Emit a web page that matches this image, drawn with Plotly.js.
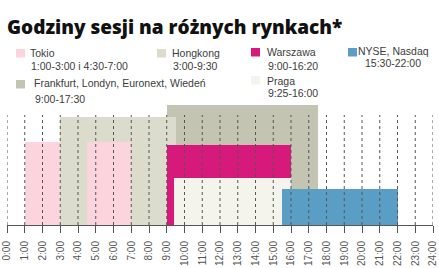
<!DOCTYPE html>
<html>
<head>
<meta charset="utf-8">
<script src="https://cdn.plot.ly/plotly-3.0.1.min.js"></script>
<style>
html,body{margin:0;padding:0;background:#fff;}
#chart{width:439px;height:268px;}
</style>
</head>
<body>
<div id="chart"></div>
<script>
// ---- data ----
var markets = ['Frankfurt, Londyn, Euronext, Wiedeń', 'Hongkong', 'Tokio', 'Warszawa', 'Praga', 'NYSE, Nasdaq'];
var hoursText = ['9:00-17:30', '3:00-9:30', '1:00-3:00 i 4:30-7:00', '9:00-16:20', '9:25-16:00', '15:30-22:00'];
var sessionStart = [[9], [3], [1, 4.5], [9], [9 + 25/60], [15.5]];
var sessionEnd   = [[17.5], [9.5], [3, 7], [16], [16], [22]];
var tickVals = [0,1,2,3,4,5,6,7,8,9,10,11,12,13,14,15,16,17,18,19,20,21,22,23,24];
var tickLabels = ['0:00','1:00','2:00','3:00','4:00','5:00','6:00','7:00','8:00','9:00','10:00','11:00','12:00',
                  '13:00','14:00','15:00','16:00','17:00','18:00','19:00','20:00','21:00','22:00','23:00','24:00'];

// ---- styles (layering heights in px-units and colours) ----
var levels = [120, 108, 83, 80, 47, 36];
var colors = ['#c4c4b2', '#dcdccd', '#fcd4de', '#d6197b', '#f4f4ec', '#5a9ec6'];
var W = 439, H = 268, L = 7, R = 6, T = 105, B = 43;
var plotW = W - L - R, plotH = H - T - B;
var gridTop = 110;

var traces = markets.map(function (m, i) {
  var xs = [], ws = [], ys = [];
  for (var k = 0; k < sessionStart[i].length; k++) {
    xs.push((sessionStart[i][k] + sessionEnd[i][k]) / 2);
    ws.push(sessionEnd[i][k] - sessionStart[i][k]);
    ys.push(levels[i]);
  }
  return {type: 'bar', x: xs, y: ys, width: ws, base: 0, name: m,
          marker: {color: colors[i], line: {width: 0}}, hoverinfo: 'skip', showlegend: false};
});

function px2x(px) { return (px - L) / plotW; }
function py2y(py) { return (H - B - py) / plotH; }

var shapes = tickVals.map(function (v) {
  return {type: 'line', xref: 'x', yref: 'y', x0: v, x1: v, y0: 0, y1: gridTop, layer: 'above',
          line: {color: '#555', width: 1, dash: 'dot'}};
});

// legend layout: [swatch x, swatch y, text x, line1 y, line2 y, align]
var legendPos = [
  [16, 80, 32, 83, 98.5, 'left'],
  [157, 49, 170, 52.5, 66, 'left'],
  [16, 49, 28, 52.5, 66, 'left'],
  [251, 48, 265, 52, 66, 'left'],
  [251, 76, 265, 81, 93.5, 'left'],
  [348, 48, 362, 50.5, 63, 'center']
];
var legFont = {family: 'Liberation Sans, Arial, sans-serif', size: 10.5, color: '#3c3c3c'};
var annotations = [];
markets.forEach(function (m, i) {
  var p = legendPos[i];
  shapes.push({type: 'rect', xref: 'paper', yref: 'paper', x0: px2x(p[0]), x1: px2x(p[0] + 9),
               y0: py2y(p[1]), y1: py2y(p[1] + 8.5), fillcolor: colors[i], line: {width: 0}, layer: 'above'});
  var tx = p[5] === 'center' ? px2x(p[2] + 31) : px2x(p[2]);
  annotations.push({xref: 'paper', yref: 'paper', x: tx, y: py2y(p[3]), text: m, showarrow: false,
                    xanchor: p[5], yanchor: 'middle', font: legFont});
  annotations.push({xref: 'paper', yref: 'paper', x: p[5] === 'center' ? tx : px2x(p[2] + 1), y: py2y(p[4]),
                    text: hoursText[i], showarrow: false, xanchor: p[5], yanchor: 'middle', font: legFont});
});
annotations.push({xref: 'paper', yref: 'paper', x: px2x(5), y: py2y(27), text: 'Godziny sesji na różnych rynkach*',
                  showarrow: false, xanchor: 'left', yanchor: 'middle',
                  font: {family: 'Open Sans, sans-serif', size: 19, weight: 800, color: '#111'}});

var layout = {
  width: W, height: H,
  margin: {l: L, r: R, t: T, b: B, pad: 0},
  paper_bgcolor: '#fff', plot_bgcolor: '#fff',
  barmode: 'overlay', bargap: 0,
  showlegend: false,
  xaxis: {range: [0, 24], tickvals: tickVals, ticktext: tickLabels, tickangle: -90,
          showgrid: false, zeroline: false, showline: true, linecolor: '#555', linewidth: 1,
          ticks: 'outside', ticklen: 7, tickcolor: '#555', tickwidth: 1, ticklabelstandoff: 4,
          tickfont: {family: 'Liberation Sans, sans-serif', size: 10, color: '#555'}, fixedrange: true},
  yaxis: {range: [0, plotH], visible: false, fixedrange: true},
  shapes: shapes,
  annotations: annotations
};

Plotly.newPlot('chart', traces, layout, {displayModeBar: false, staticPlot: true});
</script>
</body>
</html>
